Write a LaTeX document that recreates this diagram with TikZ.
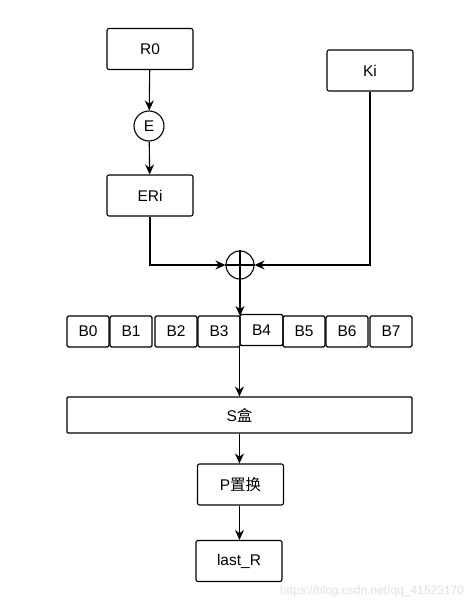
\documentclass[tikz,border=0pt]{standalone}
\usepackage{fontspec}
\setmainfont{Liberation Sans}
\newfontfamily\cjk{Noto Sans CJK SC}
\usetikzlibrary{arrows.meta}
\begin{document}
\begin{tikzpicture}[x=1pt,y=-1pt,
    box/.style={draw,rounded corners=2pt,line width=1.1pt,minimum width=86pt,minimum height=41pt,inner sep=0pt,
      font=\fontsize{15.5}{17}\selectfont},
    bbox/.style={draw,rounded corners=1.5pt,line width=1.1pt,minimum width=42pt,minimum height=31pt,inner sep=0pt,
      font=\fontsize{15.5}{17}\selectfont},
    op/.style={draw,circle,line width=1.1pt,minimum size=30pt,inner sep=0pt,font=\fontsize{15.5}{17}\selectfont},
    arr/.style={line width=1.1pt,-{Stealth[length=10pt,width=9pt]}}]
  \useasboundingbox (0,0) rectangle (466,608);

  \node[box] (r0) at (150,49) {R0};
  \node[op] (e) at (149,126) {E};
  \node[box] (eri) at (150,195.5) {ERi};
  \node[box] (ki) at (370,70.5) {Ki};
  \node[op,minimum size=28pt] (xor) at (240,265) {};
  \draw[line width=1.1pt] (xor.north) -- (xor.south) (xor.west) -- (xor.east);

  % the eight blocks
  \node[bbox] (b0) at (88,331.5) {B0};
  \node[bbox] (b1) at (131,331.5) {B1};
  \node[bbox] (b2) at (176,331.5) {B2};
  \node[bbox] (b3) at (219,331.5) {B3};
  \node[bbox,minimum width=43pt] (b4) at (261.5,330) {B4};
  \node[bbox] (b5) at (304,331.5) {B5};
  \node[bbox] (b6) at (347,331.5) {B6};
  \node[bbox] (b7) at (391,331.5) {B7};

  \node[box,rounded corners=1pt,minimum width=345pt,minimum height=36pt] (sbox) at (239.5,415) {S{\cjk 盒}};
  \node[box] (p) at (240.5,484.5) {P{\cjk 置换}};
  \node[box] (last) at (239,561) {last\_R};

  \draw[arr] (r0) -- (e);
  \draw[arr] (e) -- (eri);
  \draw[arr] (eri.south) |- (xor.west);
  \draw[arr] (ki.south) |- (xor.east);
  \draw[arr] (xor.south) -- (240,316);
  \draw[arr] (b4.south west) -- (sbox.north -| b4.south west);
  \draw[arr] (sbox.south -| b4.south west) -- (p.north -| b4.south west);
  \draw[arr] (p.south -| b4.south west) -- (last.north -| b4.south west);

  \node[text=gray!25,font=\fontsize{12}{14}\selectfont] (mark) at (372,591) {https://blog.csdn.net/qq\_41523170};
\end{tikzpicture}
\end{document}
